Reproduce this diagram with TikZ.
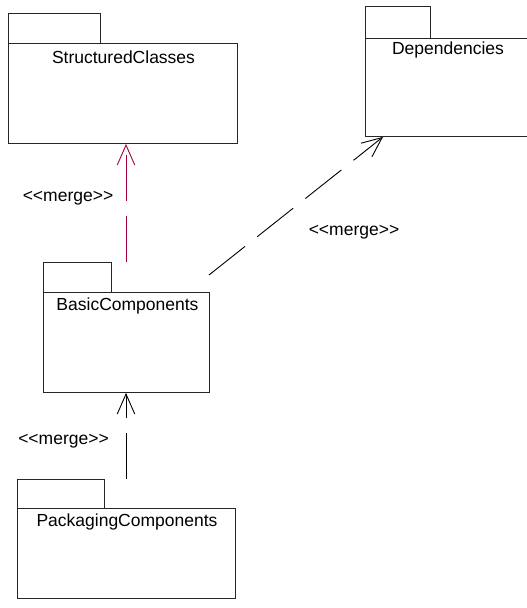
\documentclass[tikz,border=0pt]{standalone}
\usepackage{fontspec}
\setmainfont{Liberation Sans}
\usetikzlibrary{arrows.meta}
\definecolor{mergered}{RGB}{160,0,64}
\newcommand{\mergetxt}{\textless\kern0pt\textless\kern0pt merge\kern0pt\textgreater\kern0pt\textgreater}
\begin{document}
\begin{tikzpicture}[x=1pt,y=-1pt,
  pkg/.style={draw=black!85, line width=0.9pt, fill=white, rectangle, inner sep=0pt, anchor=north west},
  pkgname/.style={font=\fontsize{17.5}{20}\selectfont, inner sep=0pt, anchor=center},
  stereo/.style={font=\fontsize{17.5}{20}\selectfont, inner sep=0pt, anchor=center},
  mergedep/.style={line width=0.9pt, dash pattern=on 46pt off 15.5pt,
    -{Straight Barb[length=20pt,width=17.5pt,line width=0.9pt]}},
]
\useasboundingbox (0,0) rectangle (527,608);
% StructuredClasses
\node[pkg, minimum width=92pt, minimum height=30pt] (sctab) at (8,13) {};
\node[pkg, minimum width=229pt, minimum height=100pt] (sc) at (8,43) {};
\node[pkgname] (scname) at (123.5,57) {StructuredClasses};
% Dependencies
\node[pkg, minimum width=65pt, minimum height=32pt] (deptab) at (365,6) {};
\node[pkg, minimum width=166pt, minimum height=98pt] (dep) at (365,38) {};
\node[pkgname] (depname) at (448,50) {Dependencies};
% BasicComponents
\node[pkg, minimum width=68pt, minimum height=30pt] (bctab) at (43,262) {};
\node[pkg, minimum width=166pt, minimum height=100pt] (bc) at (43,292) {};
\node[pkgname] (bcname) at (127.5,306) {BasicComponents};
% PackagingComponents
\node[pkg, minimum width=87pt, minimum height=29pt] (pctab) at (17,479) {};
\node[pkg, minimum width=218pt, minimum height=90pt] (pc) at (17,508) {};
\node[pkgname] (pcname) at (127,522) {PackagingComponents};
% helper coordinates
\coordinate (vx) at (126,0);
\coordinate (diagstart) at (209,275);
\coordinate (depx) at (383,0);
% connectors
\draw[mergedep, draw=mergered] (bctab.north -| vx) -- (sc.south -| vx);
\draw[mergedep, draw=black] (pctab.north -| vx) -- (bc.south -| vx);
\draw[mergedep, draw=black] (diagstart) -- (dep.south -| depx);
% labels
\node[stereo] (m1) at (68,198) {\mergetxt};
\node[stereo] (m2) at (63.5,441) {\mergetxt};
\node[stereo] (m3) at (354,232.5) {\mergetxt};
\end{tikzpicture}
\end{document}
